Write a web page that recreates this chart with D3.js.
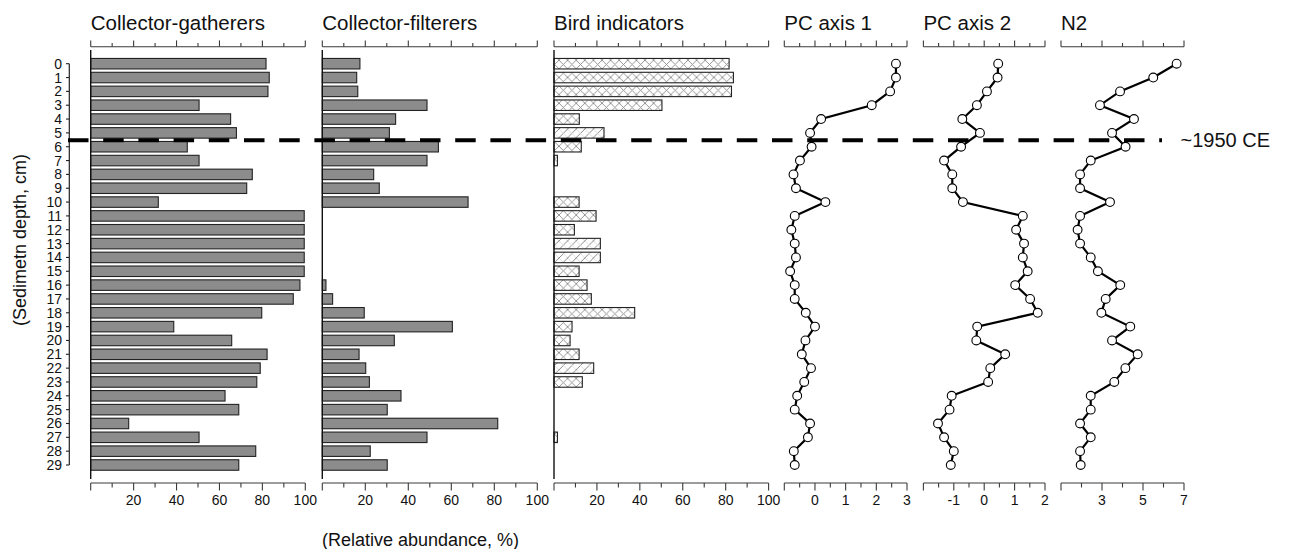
<!DOCTYPE html>
<html><head><meta charset="utf-8">
<script src="https://cdn.jsdelivr.net/npm/d3@7"></script>
<style>
html,body{margin:0;padding:0;background:#fff;}
svg{display:block;font-family:"Liberation Sans",Arial,Helvetica,sans-serif;}
</style></head>
<body><svg id="c" width="1311" height="549"></svg>
<script>
// ---- data ----
const depths = d3.range(0, 30);
const collectorGatherers = [81.7,83.2,82.6,50.5,65.2,67.9,45.0,50.5,75.3,72.7,31.5,99.5,99.5,99.5,99.5,99.5,97.5,94.4,79.7,38.7,65.7,82.2,79.0,77.4,62.6,69.0,17.7,50.5,76.9,69.0];
const collectorFilterers = [17.5,16.0,16.5,48.7,34.1,31.2,54.0,48.7,23.9,26.5,67.8,0,0,0,0,0,1.7,4.8,19.5,60.5,33.5,17.1,20.2,21.9,36.6,30.2,81.6,48.7,22.3,30.2];
const birdIndicators = [81.6,83.6,82.7,50.3,11.8,23.3,12.7,1.6,0,0,11.7,19.6,9.5,21.6,21.6,11.7,15.4,17.4,37.6,8.4,7.5,11.7,18.5,13.2,0,0,0,1.6,0,0];
const pcAxis1 = [2.64,2.64,2.45,1.85,0.20,-0.16,-0.11,-0.49,-0.70,-0.62,0.34,-0.66,-0.77,-0.66,-0.62,-0.81,-0.66,-0.66,-0.30,0.0,-0.31,-0.43,-0.13,-0.35,-0.58,-0.66,-0.16,-0.23,-0.69,-0.66];
const pcAxis2 = [0.46,0.44,0.09,-0.24,-0.72,-0.14,-0.76,-1.32,-1.05,-1.05,-0.70,1.27,1.05,1.31,1.27,1.43,1.02,1.51,1.76,-0.23,-0.26,0.69,0.20,0.13,-1.07,-1.14,-1.52,-1.32,-1.00,-1.10];
const n2 = [6.64,5.50,3.88,2.90,4.56,3.49,4.15,2.45,1.93,1.93,3.39,1.93,1.81,1.93,2.45,2.80,3.89,3.18,2.97,4.38,3.49,4.74,4.14,3.60,2.45,2.45,1.93,2.45,1.93,1.96];
const titles = ["Collector-gatherers","Collector-filterers","Bird indicators","PC axis 1","PC axis 2","N2"];
const pctTickLabels = [20,40,60,80,100];
const pc1TickLabels = [0,1,2,3];
const pc2TickLabels = [-1,0,1,2];
const n2TickLabels = [3,5,7];
const boundaryDepth = 5.54;
const boundaryLabel = "~1950 CE";
const yTitle = "(Sedimetn depth, cm)";
const xTitle = "(Relative abundance, %)";
// hatch style of each bird bar ("x" cross-hatch, "/" diagonal)
const birdHatch = ["x","x","x","x","x","/","x","x","x","x","x","x","x","/","/","x","x","x","x","x","x","x","/","x","x","x","x","x","x","x"];

// ---- layout ----
const svg = d3.select("#c");
const topY = 46.7, botY = 483;
const y = d3.scaleLinear().domain([0,29]).range([63.7,465]);
const barH = 10.5;

const defs = svg.append("defs");
const pX = defs.append("pattern").attr("id","hx").attr("patternUnits","userSpaceOnUse").attr("width",8.6).attr("height",8.6);
pX.append("rect").attr("width",8.6).attr("height",8.6).attr("fill","#fff");
pX.append("path").attr("d","M0,0L8.6,8.6M8.6,0L0,8.6").attr("stroke","#8a8a8a").attr("stroke-width",0.9);
const pD = defs.append("pattern").attr("id","hd").attr("patternUnits","userSpaceOnUse").attr("width",8.6).attr("height",8.6);
pD.append("rect").attr("width",8.6).attr("height",8.6).attr("fill","#fff");
pD.append("path").attr("d","M0,8.6L8.6,0M-2,2L2,-2M6.6,10.6L10.6,6.6").attr("stroke","#7a7a7a").attr("stroke-width",0.9);
pD.append("path").attr("d","M0,0L8.6,8.6").attr("stroke","#c8c8c8").attr("stroke-width",0.6);

function topAxis(x, ticks, major){
  const g = svg.append("g").attr("stroke","#3a3a3a").attr("stroke-width",1.1);
  const [a,b] = x.range();
  g.append("line").attr("x1",a).attr("x2",b).attr("y1",topY).attr("y2",topY);
  g.selectAll("line.t").data(ticks).join("line").attr("class","t")
    .attr("x1",d=>x(d)).attr("x2",d=>x(d)).attr("y1",topY)
    .attr("y2",d=>topY-(major(d)?6.3:3.8));
}
function bottomAxis(x, ticks, major, labels, fmt){
  const g = svg.append("g");
  const [a,b] = x.range();
  g.append("line").attr("x1",a).attr("x2",b).attr("y1",botY).attr("y2",botY).attr("stroke","#3a3a3a").attr("stroke-width",1.1);
  g.selectAll("line.t").data(ticks).join("line").attr("class","t")
    .attr("stroke","#3a3a3a").attr("stroke-width",1.1)
    .attr("x1",d=>x(d)).attr("x2",d=>x(d)).attr("y1",botY)
    .attr("y2",d=>botY+(major(d)?7.5:4.5));
  g.selectAll("text").data(labels).join("text")
    .attr("x",d=>x(d)).attr("y",505).attr("text-anchor","middle")
    .attr("font-size",14).attr("fill","#111").text(fmt||(d=>d));
}
function title(i, x0){
  svg.append("text").attr("x",x0).attr("y",30).attr("font-size",20.5).attr("fill","#111").text(titles[i]);
}

// bar panels
const barPanels = [
  {vals:collectorGatherers, x0:90.7, x1:305.3, kind:"solid"},
  {vals:collectorFilterers, x0:322.3, x1:537.3, kind:"solid"},
  {vals:birdIndicators, x0:554, x1:768.6, kind:"hatch"}
];
barPanels.forEach((p,i)=>{
  const x = d3.scaleLinear().domain([0,100]).range([p.x0,p.x1]);
  title(i, p.x0);
  const t10 = d3.range(0,101,10);
  topAxis(x, t10, d=>d%20===0);
  bottomAxis(x, t10, d=>d%20===0, pctTickLabels);
  const rows = depths.map((d,k)=>({d, v:p.vals[k], k})).filter(r=>r.v>0);
  svg.append("g").selectAll("rect").data(rows).join("rect")
    .attr("x",x(0)).attr("y",r=>y(r.d)-barH/2)
    .attr("width",r=>x(r.v)-x(0)).attr("height",barH)
    .attr("fill",r=>p.kind==="solid"?"#8c8c8c":(birdHatch[r.k]==="/"?"url(#hd)":"url(#hx)"))
    .attr("stroke","#222").attr("stroke-width",1.1);
  svg.append("line").attr("x1",x(0)).attr("x2",x(0)).attr("y1",50).attr("y2",479)
    .attr("stroke","#111").attr("stroke-width",1.4);
});

// line panels
const linePanels = [
  {vals:pcAxis1, dom:[-1,3], x0:784.3, x1:907, ticks:d3.range(-1,3.01,0.5), major:d=>Math.abs(d-Math.round(d))<1e-6, labels:pc1TickLabels},
  {vals:pcAxis2, dom:[-2,2], x0:923.4, x1:1045, ticks:d3.range(-2,2.01,0.5), major:d=>Math.abs(d-Math.round(d))<1e-6, labels:pc2TickLabels},
  {vals:n2, dom:[1,7], x0:1061, x1:1184, ticks:d3.range(1,7.01,1), major:d=>d%2===1, labels:n2TickLabels}
];
linePanels.forEach((p,i)=>{
  const x = d3.scaleLinear().domain(p.dom).range([p.x0,p.x1]);
  title(i+3, p.x0);
  topAxis(x, p.ticks, p.major);
  bottomAxis(x, p.ticks, p.major, p.labels);
  const pts = depths.map((d,k)=>[x(p.vals[k]), y(d)]);
  svg.append("path").attr("d",d3.line()(pts)).attr("fill","none").attr("stroke","#000").attr("stroke-width",2.2);
  svg.append("g").selectAll("circle").data(pts).join("circle")
    .attr("cx",d=>d[0]).attr("cy",d=>d[1]).attr("r",4.4)
    .attr("fill","#fff").attr("stroke","#000").attr("stroke-width",1.1);
});

// depth axis
const yg = svg.append("g");
yg.append("line").attr("x1",69.3).attr("x2",69.3).attr("y1",y(0)).attr("y2",y(29)).attr("stroke","#222").attr("stroke-width",1.2);
yg.selectAll("line.t").data(depths).join("line").attr("class","t")
  .attr("x1",66).attr("x2",69.3).attr("y1",d=>y(d)).attr("y2",d=>y(d)).attr("stroke","#222").attr("stroke-width",1.1);
yg.selectAll("text").data(depths).join("text")
  .attr("x",62).attr("y",d=>y(d)+5).attr("text-anchor","end").attr("font-size",14).attr("fill","#111").text(d=>d);

// axis titles
svg.append("text").attr("transform","translate(26,240) rotate(-90)").attr("text-anchor","middle")
  .attr("font-size",18).attr("fill","#111").text(yTitle);
svg.append("text").attr("x",420.5).attr("y",546).attr("text-anchor","middle")
  .attr("font-size",18).attr("fill","#111").text(xTitle);

// boundary line
const by = y(boundaryDepth);
svg.append("line").attr("x1",68).attr("x2",1162).attr("y1",by).attr("y2",by)
  .attr("stroke","#000").attr("stroke-width",4).attr("stroke-dasharray","20.5 14.7");
svg.append("text").attr("x",1180.5).attr("y",by+6.8).attr("font-size",20).attr("fill","#111").text(boundaryLabel);
</script>
</body></html>
